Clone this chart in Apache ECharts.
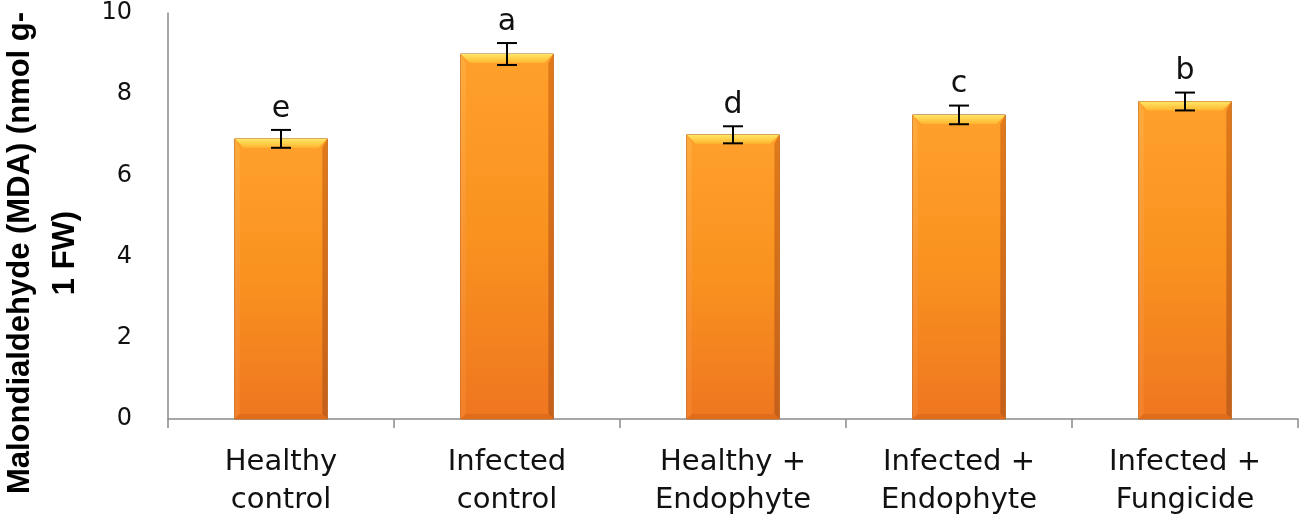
<!DOCTYPE html>
<html>
<head>
<meta charset="utf-8">
<script src="https://cdn.jsdelivr.net/npm/echarts@6/dist/echarts.min.js"></script>
<style>html,body{margin:0;padding:0;background:#fff;}#c{width:1303px;height:518px;}</style>
</head>
<body>
<div id="c"></div>
<script>
const categories = ['Healthy\ncontrol', 'Infected\ncontrol', 'Healthy +\nEndophyte', 'Infected +\nEndophyte', 'Infected +\nFungicide'];
const means = [6.9, 8.99, 7.0, 7.49, 7.82];
const errors = [0.22, 0.27, 0.21, 0.23, 0.22];
const letters = ['e', 'a', 'd', 'c', 'b'];
const yTicks = { min: 0, max: 10, interval: 2 };
const yTitle = 'Malondialdehyde (MDA) (nmol g-\n1 FW)';

const chart = echarts.init(document.getElementById('c'), null, { renderer: 'canvas' });

const barData = means.map((m, i) => [i, m]);
const errData = means.map((m, i) => [i, m, errors[i]]);

function renderBar(params, api) {
  const idx = api.value(0), v = api.value(1);
  const top = api.coord([idx, v]);
  const base = api.coord([idx, 0]);
  const bw = api.size([1, 0])[0] * 0.41;
  const x0 = top[0] - bw / 2, x1 = top[0] + bw / 2, y0 = top[1], y1 = base[1];
  const b = 9, s = 5;
  return {
    type: 'group',
    children: [
      { type: 'rect', shape: { x: x0, y: y0, width: bw, height: y1 - y0 },
        style: { fill: new echarts.graphic.LinearGradient(0, 0, 0, 1, [
          { offset: 0, color: '#ffa02c' }, { offset: 0.5, color: '#f9921f' }, { offset: 1, color: '#ef7620' }]),
          stroke: '#b8641e', lineWidth: 1 } },
      { type: 'polygon', shape: { points: [[x0, y0], [x1, y0], [x1 - b, y0 + b], [x0 + b, y0 + b]] },
        style: { fill: new echarts.graphic.LinearGradient(0, 0, 0, 1, [
          { offset: 0, color: '#ffe766' }, { offset: 1, color: '#ffb62e' }]) } },
      { type: 'polygon', shape: { points: [[x0, y0], [x0 + s, y0 + b], [x0 + s, y1 - s], [x0, y1]] },
        style: { fill: new echarts.graphic.LinearGradient(0, 0, 0, 1, [
          { offset: 0, color: '#ffab3c' }, { offset: 1, color: '#f3802a' }]) } },
      { type: 'polygon', shape: { points: [[x1, y0], [x1 - s, y0 + b], [x1 - s, y1 - s], [x1, y1]] },
        style: { fill: new echarts.graphic.LinearGradient(0, 0, 0, 1, [
          { offset: 0, color: '#e07a1a' }, { offset: 1, color: '#c4601a' }]) } },
      { type: 'polygon', shape: { points: [[x0, y1], [x0 + s, y1 - s], [x1 - s, y1 - s], [x1, y1]] },
        style: { fill: '#e06c1c' } }
    ]
  };
}

function renderErr(params, api) {
  const idx = api.value(0), m = api.value(1), e = api.value(2);
  const t = api.coord([idx, m + e]);
  const bt = api.coord([idx, m - e]);
  const cap = 10;
  const st = { stroke: '#000', lineWidth: 2 };
  return {
    type: 'group',
    children: [
      { type: 'line', shape: { x1: t[0], y1: t[1], x2: bt[0], y2: bt[1] }, style: st },
      { type: 'line', shape: { x1: t[0] - cap, y1: t[1], x2: t[0] + cap, y2: t[1] }, style: st },
      { type: 'line', shape: { x1: bt[0] - cap, y1: bt[1], x2: bt[0] + cap, y2: bt[1] }, style: st },
      { type: 'text', style: { text: letters[params.dataIndex], x: t[0], y: t[1] - 6,
        align: 'center', verticalAlign: 'bottom', fill: '#111',
        font: '30px "DejaVu Sans"' } }
    ]
  };
}

chart.setOption({
  animation: false,
  backgroundColor: '#fff',
  grid: { left: 168, right: 5, top: 13, bottom: 99, containLabel: false, outerBoundsMode: 'none' },
  xAxis: {
    type: 'category',
    data: categories,
    boundaryGap: true,
    axisLine: { lineStyle: { color: '#8a8a8a', width: 1.5 } },
    axisTick: { show: true, length: 9, lineStyle: { color: '#8a8a8a', width: 1.5 } },
    axisLabel: { interval: 0, color: '#111', fontFamily: 'DejaVu Sans', fontSize: 29, lineHeight: 38, margin: 24 },
    splitLine: { show: false }
  },
  yAxis: {
    type: 'value',
    min: yTicks.min, max: yTicks.max, interval: yTicks.interval,
    axisLine: { show: true, lineStyle: { color: '#8a8a8a', width: 1.5 } },
    axisTick: { show: false },
    splitLine: { show: false },
    axisLabel: { color: '#111', fontFamily: 'DejaVu Sans', fontSize: 24, margin: 36 },
    name: yTitle,
    nameLocation: 'middle',
    nameRotate: 90,
    nameGap: 80,
    nameTextStyle: { fontFamily: 'Liberation Sans', fontWeight: 'bold', fontSize: 31, lineHeight: 45, color: '#000', padding: [0, 74, 0, 0] }
  },
  series: [
    { type: 'custom', renderItem: renderBar, data: barData, encode: { x: 0, y: 1 }, z: 2, clip: false },
    { type: 'custom', renderItem: renderErr, data: errData, encode: { x: 0, y: 1 }, z: 3, clip: false }
  ]
});
</script>
</body>
</html>
